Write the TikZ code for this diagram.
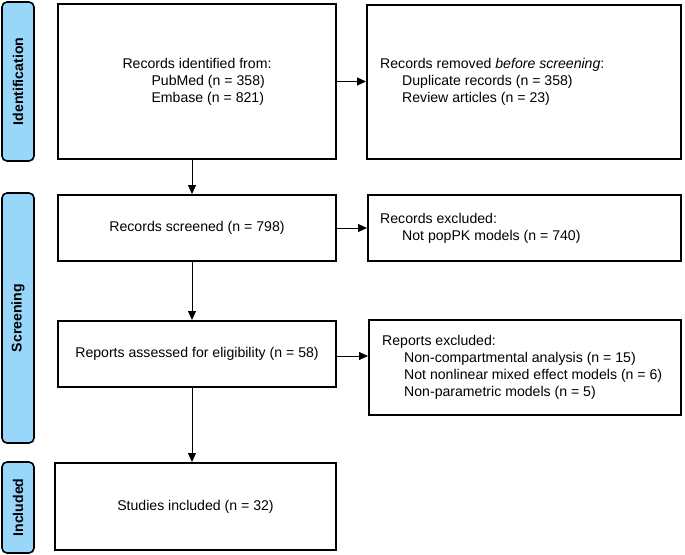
\documentclass[tikz,border=0pt]{standalone}
\usepackage{fontspec}
\setmainfont{Liberation Sans}
\usetikzlibrary{arrows.meta,calc}
\definecolor{barblue}{RGB}{152,214,250}
\begin{document}
\begin{tikzpicture}[x=1pt,y=-1pt,
  every node/.style={font=\fontsize{14.1}{17}\selectfont},
  box/.style={draw=black,line width=2pt,fill=white,inner sep=0pt,align=center},
  ltext/.style={align=left,inner sep=0pt,anchor=west},
  phase/.style={draw=black,line width=1.6pt,fill=barblue,rounded corners=5pt,inner sep=0pt,
    minimum width=32pt},
  phasetext/.style={rotate=90,font=\fontsize{14.1}{17}\selectfont\bfseries},
  arr/.style={line width=1pt,-{Triangle[length=9pt,width=8pt]}}
]
\useasboundingbox (0,0) rectangle (685,554);
% phase bars
\node[phase,minimum height=159pt] (pid) at (18,81.5) {};
\node[phasetext] (pidt) at (pid.center) {Identification};
\node[phase,minimum height=250pt] (pscr) at (18,318) {};
\node[phasetext] (pscrt) at (pscr.center) {Screening};
\node[phase,minimum height=91pt] (pinc) at (18,507.5) {};
\node[phasetext] (pinct) at (pinc.center) {Included};
% boxes
\node[box,minimum width=278pt,minimum height=155pt] (b1) at (197,81.5) {};
\node[align=left,inner sep=0pt] (b1t) at (b1.center) {Records identified from:\\\hspace*{29pt}PubMed (n = 358)\\\hspace*{29pt}Embase (n = 821)};
\node[box,minimum width=314pt,minimum height=154pt] (b2) at (524,82) {};
\node[ltext] (b2t) at ([xshift=14pt]b2.west)
  {Records removed \textit{before screening}:\\\hspace*{22pt}Duplicate records (n = 358)\\\hspace*{22pt}Review articles (n = 23)};
\node[box,minimum width=278pt,minimum height=66pt] (b3) at (197,228) {Records screened (n = 798)};
\node[box,minimum width=313pt,minimum height=66pt] (b4) at (524.5,228) {};
\node[ltext] (b4t) at ([xshift=13pt]b4.west)
  {Records excluded:\\\hspace*{22pt}Not popPK models (n = 740)};
\node[box,minimum width=278pt,minimum height=66pt] (b5) at (197,354) {Reports assessed for eligibility (n = 58)};
\node[box,minimum width=312pt,minimum height=95pt] (b6) at (525,367.5) {};
\node[ltext] (b6t) at ([xshift=14pt]b6.west)
  {Reports excluded:\\\hspace*{22pt}Non-compartmental analysis (n = 15)\\\hspace*{22pt}Not nonlinear mixed effect models (n = 6)\\\hspace*{22pt}Non-parametric models (n = 5)};
\node[box,minimum width=281pt,minimum height=87pt] (b7) at (195.5,506.5) {Studies included (n = 32)};
% connectors
\draw[arr] (b1.east) -- (b1.east -| b2.west);
\draw[arr] (b3.east) -- (b3.east -| b4.west);
\draw[arr] ([yshift=-2pt]b5.east) -- ([yshift=-2pt]b5.east -| b6.west);
\draw[arr] ([xshift=-5pt]b1.south) -- ([xshift=-5pt]b1.south |- b3.north);
\draw[arr] ([xshift=-5pt]b3.south) -- ([xshift=-5pt]b3.south |- b5.north);
\draw[arr] ([xshift=-5pt]b5.south) -- ([xshift=-5pt]b5.south |- b7.north);
\end{tikzpicture}
\end{document}
